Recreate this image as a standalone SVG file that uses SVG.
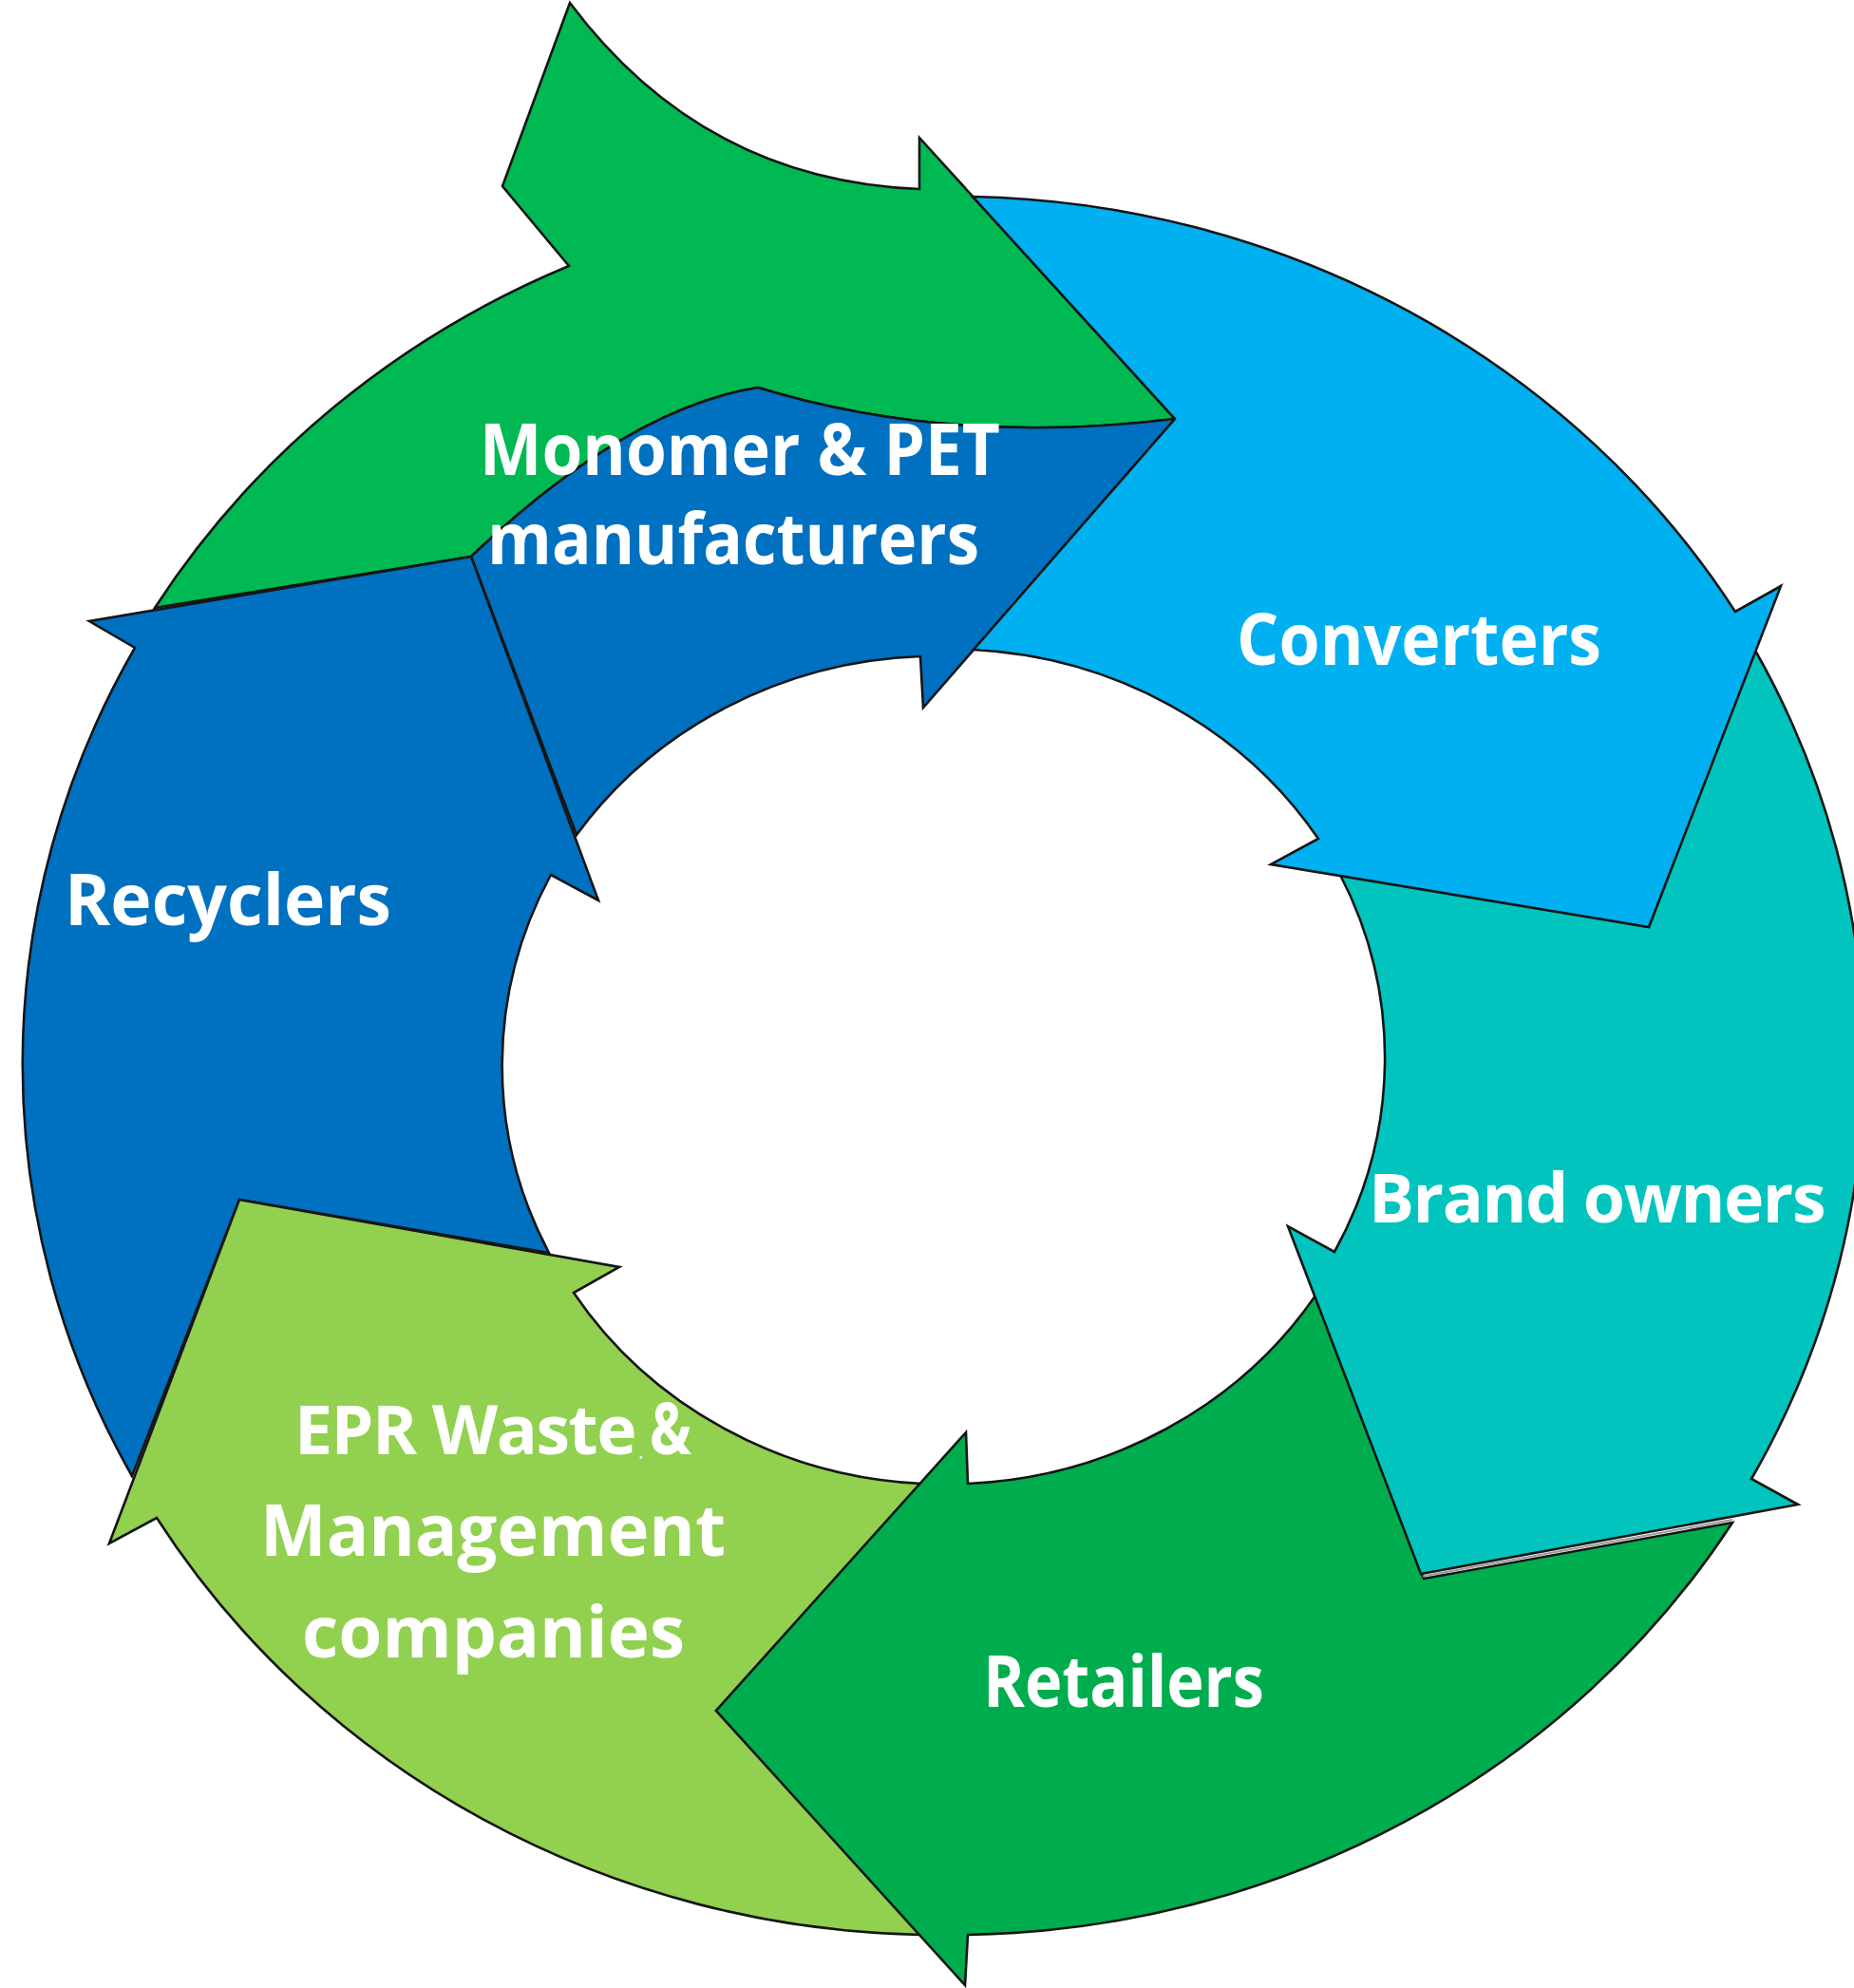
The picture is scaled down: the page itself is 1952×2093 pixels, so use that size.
<svg xmlns="http://www.w3.org/2000/svg" width="1952" height="2093" viewBox="0 0 1952 2093">
<style>
.s{stroke:#151515;stroke-width:2.6;stroke-linejoin:miter;stroke-miterlimit:20}
.t{fill:#ffffff;font-family:"Open Sans","Liberation Sans",sans-serif;font-weight:700;font-size:76px}
</style>
<rect width="1952" height="2093" fill="#ffffff"/>
<g id="node-monomer">
<path class="s" fill="#00B953" d="M600,3 Q740,190 968,199 L968,145 L1237,441 Q1000,470 798,408 Q660,430 496,586 L163,640 A966,915 0 0 1 599,280 L529,196 Z"/>
<path class="s" fill="#0070C0" d="M496,586 Q660,430 798,408 Q1000,470 1237,441 L972,745 L969,691 A463,439 0 0 0 607,879 Z"/>
<text class="t" x="505" y="500" textLength="548" lengthAdjust="spacingAndGlyphs">Monomer &amp; PET</text>
<text class="t" x="513" y="594" textLength="518" lengthAdjust="spacingAndGlyphs">manufacturers</text>
</g>
<g id="node-recyclers">
<path class="s" fill="#0070C0" d="M252,1263 L139,1554 A966,915 0 0 1 142,682 L94,654 L496,586 L630,948 L580,921 A463,439 0 0 0 578,1319 Z"/>
<text class="t" x="68" y="974" textLength="344" lengthAdjust="spacingAndGlyphs">Recyclers</text>
</g>
<g id="node-epr">
<path class="s" fill="#92D050" d="M252,1263 L652,1334 L604,1361 A463,439 0 0 0 970,1562 L754,1801 L970,2037 A966,915 0 0 1 165,1598 L115,1625 Z"/>
<text class="t" x="310" y="1531" style="font-size:72px;letter-spacing:-1.5px" textLength="359" lengthAdjust="spacingAndGlyphs">EPR Waste</text>
<text class="t" x="673" y="1534"><tspan style="font-size:13px">,</tspan><tspan x="684" y="1531" textLength="44" lengthAdjust="spacingAndGlyphs">&amp;</tspan></text>
<text class="t" x="274" y="1638" textLength="490" lengthAdjust="spacingAndGlyphs">Management</text>
<text class="t" x="318" y="1745" textLength="403" lengthAdjust="spacingAndGlyphs">companies</text>
</g>
<g id="node-retailers">
<path class="s" fill="#00AD4E" d="M754,1801 L1017,1508 L1019,1562 A463,439 0 0 0 1385,1364 L1499,1662 L1824,1603 A966,915 0 0 1 1019,2037 L1016,2090 Z"/>
<text class="t" x="1035" y="1797" textLength="296" lengthAdjust="spacingAndGlyphs">Retailers</text>
</g>
<g id="node-brand">
<line x1="1498" y1="1659.5" x2="1824" y2="1600" stroke="#9a9a9a" stroke-width="2"/>
<path class="s" fill="#00C4BD" d="M1496,1657 L1356,1291 L1405,1318 A463,439 0 0 0 1410,919 L1736,976 L1847,683 A966,915 0 0 1 1844,1557 L1893,1584 Z"/>
<text class="t" x="1441" y="1287" style="font-size:72px;letter-spacing:-1.5px" textLength="480" lengthAdjust="spacingAndGlyphs">Brand owners</text>
</g>
<g id="node-converters">
<path class="s" fill="#00B0F0" d="M1024,207 A966,915 0 0 1 1827,644 L1875,617 L1736,976 L1338,910 L1388,883 A463,439 0 0 0 1025,684 L1237,441 Z"/>
<text class="t" x="1302" y="700" textLength="384" lengthAdjust="spacingAndGlyphs">Converters</text>
</g>
<g id="connectors"></g>
</svg>
